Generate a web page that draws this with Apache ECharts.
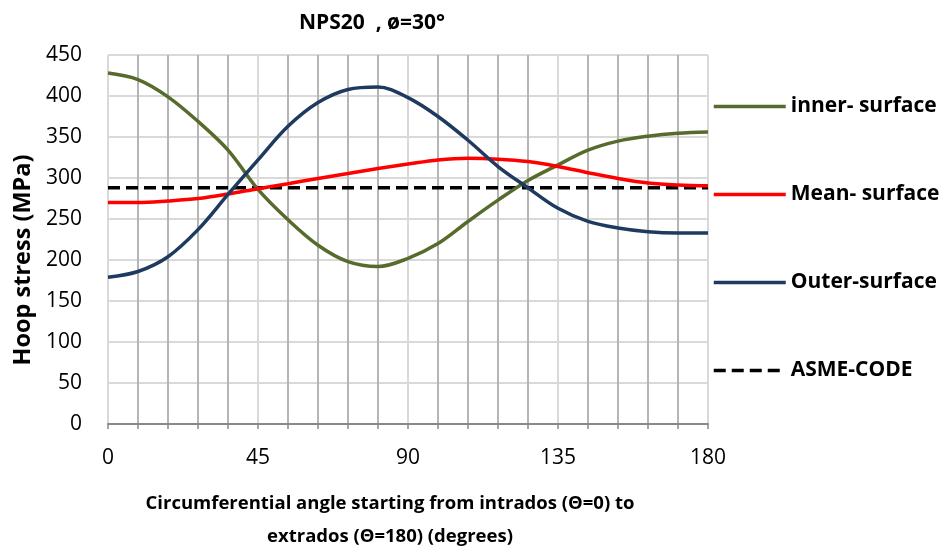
<!DOCTYPE html>
<html>
<head>
<meta charset="utf-8">
<script src="https://cdn.jsdelivr.net/npm/echarts@6/dist/echarts.min.js"></script>
<style>html,body{margin:0;padding:0;background:#fff;}#c{width:948px;height:549px;}</style>
</head>
<body>
<div id="c"></div>
<script>
var angles = [0, 9, 18, 27, 36, 45, 54, 63, 72, 81, 90, 99, 108, 117, 126, 135, 144, 153, 162, 171, 180];
var innerSurface = [428, 420, 399, 369, 334, 286, 249, 218, 198, 192, 202, 220, 247, 273, 297, 316, 334, 345, 351, 354.5, 356];
var meanSurface = [270, 270, 272, 275, 280.5, 287, 293, 299.5, 305.5, 311.5, 317, 322, 324, 323, 320, 314, 306.5, 299.5, 294, 291.5, 290.5];
var outerSurface = [179, 186, 204, 237, 280, 322, 363, 392, 408, 411, 398, 375, 346, 314, 288, 263, 247, 239, 234.5, 233, 233];
var asmeCode = [288, 288];
var asmeAngles = [0, 180];
var seriesNames = ['inner- surface', 'Mean- surface', 'Outer-surface', 'ASME-CODE'];
var xLabels = [0, 45, 90, 135, 180];

function pairs(xs, ys) { return xs.map(function (x, i) { return [x, ys[i]]; }); }

var FONT = 'Open Sans';
var chart = echarts.init(document.getElementById('c'));
var legendTops = [96, 184, 272, 360];
var colors = ['#566b2c', '#ff0000', '#1f3a60', '#000000'];

chart.setOption({
  animation: false,
  backgroundColor: '#fff',
  title: {
    text: 'NPS20  , ø=30°',
    left: 367, top: 8, textAlign: 'center',
    textStyle: { fontFamily: FONT, fontWeight: 'bold', fontSize: 21, color: '#000' }
  },
  grid: { left: 108, right: 240, top: 55, bottom: 125, containLabel: false },
  legend: seriesNames.map(function (n, i) {
    return {
      data: [n], orient: 'vertical', left: 712, top: legendTops[i],
      itemWidth: 72, itemHeight: 24, itemGap: 0, padding: 0,
      itemStyle: { opacity: 0 },
      lineStyle: { width: 3.5 },
      textStyle: { fontFamily: FONT, fontWeight: 'bold', fontSize: 21, color: '#000' }
    };
  }),
  xAxis: {
    type: 'value', min: 0, max: 180, interval: 9,
    axisLine: { show: true, lineStyle: { color: '#898989', width: 2 } },
    axisTick: { show: true, length: 5, lineStyle: { color: '#898989', width: 1.5 } },
    axisLabel: {
      margin: 24, color: '#000', fontFamily: FONT, fontSize: 21,
      formatter: function (v) { return xLabels.indexOf(v) >= 0 ? String(v) : ''; }
    },
    splitLine: { show: true, lineStyle: { color: ['#d9d9d9', '#b5b5b5', '#b5b5b5', '#b5b5b5', '#b5b5b5'], width: 2 } }
  },
  yAxis: {
    type: 'value', min: 0, max: 450, interval: 50,
    axisLine: { show: false }, axisTick: { show: false },
    axisLabel: { margin: 26, color: '#000', fontFamily: FONT, fontSize: 21 },
    splitLine: { show: true, lineStyle: { color: '#d9d9d9', width: 2 } }
  },
  graphic: [
    {
      type: 'text', x: 23, y: 260, rotation: Math.PI / 2,
      style: { text: 'Hoop stress (MPa)', align: 'center', verticalAlign: 'middle',
        font: 'bold 23.5px "Open Sans"', fill: '#000' }
    },
    {
      type: 'text', x: 390, y: 504,
      style: { text: 'Circumferential angle starting from intrados (Θ=0) to', align: 'center', verticalAlign: 'middle',
        font: 'bold 18.5px "Open Sans"', fill: '#000' }
    },
    {
      type: 'text', x: 390, y: 537,
      style: { text: 'extrados (Θ=180) (degrees)', align: 'center', verticalAlign: 'middle',
        font: 'bold 18.5px "Open Sans"', fill: '#000' }
    }
  ],
  series: [
    { name: seriesNames[0], type: 'line', data: pairs(angles, innerSurface), smooth: 0.35, symbol: 'none',
      lineStyle: { color: colors[0], width: 3.5 }, itemStyle: { color: colors[0] } },
    { name: seriesNames[1], type: 'line', data: pairs(angles, meanSurface), smooth: 0.35, symbol: 'none',
      lineStyle: { color: colors[1], width: 3.5 }, itemStyle: { color: colors[1] } },
    { name: seriesNames[2], type: 'line', data: pairs(angles, outerSurface), smooth: 0.35, symbol: 'none',
      lineStyle: { color: colors[2], width: 3.5 }, itemStyle: { color: colors[2] } },
    { name: seriesNames[3], type: 'line', data: pairs(asmeAngles, asmeCode), symbol: 'none', z: 1,
      lineStyle: { color: colors[3], width: 3.5, type: [12, 6] }, itemStyle: { color: colors[3] } }
  ]
});
</script>
</body>
</html>
